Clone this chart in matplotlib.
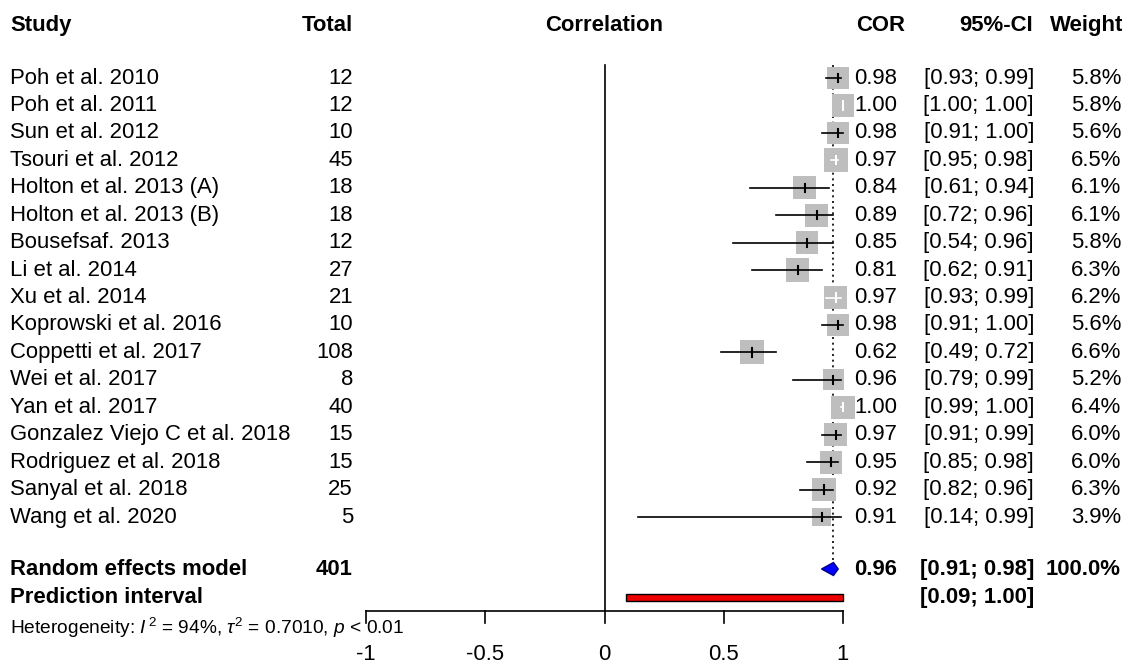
import matplotlib
matplotlib.use("Agg")
import matplotlib.pyplot as plt
from matplotlib.patches import Polygon, Rectangle
import numpy as np

plt.rcParams['font.family'] = ['Liberation Sans', 'DejaVu Sans']
plt.rcParams['mathtext.fontset'] = 'custom'
plt.rcParams['mathtext.rm'] = 'Liberation Sans'
plt.rcParams['mathtext.it'] = 'Liberation Sans:italic'
plt.rcParams['mathtext.bf'] = 'Liberation Sans:bold'

studies = ["Poh et al. 2010", "Poh et al. 2011", "Sun et al. 2012", "Tsouri et al. 2012",
           "Holton et al. 2013 (A)", "Holton et al. 2013 (B)", "Bousefsaf. 2013",
           "Li et al. 2014", "Xu et al. 2014", "Koprowski et al. 2016",
           "Coppetti et al. 2017", "Wei et al. 2017", "Yan et al. 2017",
           "Gonzalez Viejo C et al. 2018", "Rodriguez et al. 2018",
           "Sanyal et al. 2018", "Wang et al. 2020"]
totals = [12, 12, 10, 45, 18, 18, 12, 27, 21, 10, 108, 8, 40, 15, 15, 25, 5]
cor = [0.98, 1.00, 0.98, 0.97, 0.84, 0.89, 0.85, 0.81, 0.97, 0.98, 0.62, 0.96, 1.00, 0.97, 0.95, 0.92, 0.91]
lower = [0.93, 1.00, 0.91, 0.95, 0.61, 0.72, 0.54, 0.62, 0.93, 0.91, 0.49, 0.79, 0.99, 0.91, 0.85, 0.82, 0.14]
upper = [0.99, 1.00, 1.00, 0.98, 0.94, 0.96, 0.96, 0.91, 0.99, 1.00, 0.72, 0.99, 1.00, 0.99, 0.98, 0.96, 0.99]
weights = [5.8, 5.8, 5.6, 6.5, 6.1, 6.1, 5.8, 6.3, 6.2, 5.6, 6.6, 5.2, 6.4, 6.0, 6.0, 6.3, 3.9]

re_total = 401
re_est, re_lo, re_hi = 0.96, 0.91, 0.98
pi_lo, pi_hi = 0.09, 1.00
xticks = [-1, -0.5, 0, 0.5, 1]
xticklabels = ["-1", "-0.5", "0", "0.5", "1"]

W, H, DPI = 1131, 664, 100
fig = plt.figure(figsize=(W / DPI, H / DPI), dpi=DPI)
ax = fig.add_axes([0, 0, 1, 1])
ax.axis('off')

# pixel mapping
X0, XS = 604.5, 238.5          # pixel of x=0, pixels per unit
Y0, YS = 78.0, 27.44           # pixel of row 0, pixels per row
ax.set_xlim((0 - X0) / XS, (W - X0) / XS)
ax.set_ylim((H - Y0) / YS, (0 - Y0) / YS)

def px(p):
    return (p - X0) / XS

def row(p):
    return (p - Y0) / YS

FS = 15.9
n = len(studies)
rows = np.arange(n)
gray = '#BEBEBE'

# header
hy = row(25)
ax.text(px(10), hy, "Study", fontsize=FS, fontweight='bold', ha='left', va='center')
ax.text(px(353), hy, "Total", fontsize=FS, fontweight='bold', ha='right', va='center')
ax.text(px(604), hy, "Correlation", fontsize=FS, fontweight='bold', ha='center', va='center')
ax.text(px(905), hy, "COR", fontsize=FS, fontweight='bold', ha='right', va='center')
ax.text(px(1033), hy, "95%-CI", fontsize=FS, fontweight='bold', ha='right', va='center')
ax.text(px(1123), hy, "Weight", fontsize=FS, fontweight='bold', ha='right', va='center')

# reference lines
re_row = row(569)
pi_row = row(597)
axis_row = row(611)
ax.plot([0, 0], [row(65), axis_row], color='black', lw=1.2)
ax.plot([re_est, re_est], [row(65), re_row - 0.25], color='black', lw=1.2, ls=(0, (1.2, 2.2)))

# squares
K = 9.3  # px side per sqrt(weight)
sides_px = K * np.sqrt(np.array(weights))
ax.scatter(cor, rows, s=(sides_px * 72 / DPI) ** 2, marker='s', color=gray, edgecolors='none', zorder=2)

for i in range(n):
    half = sides_px[i] / 2 / XS
    inside = (cor[i] - lower[i] <= half) and (upper[i] - cor[i] <= half)
    c = 'white' if inside else 'black'
    ax.plot([lower[i], upper[i]], [i, i], color=c, lw=1.2, zorder=3)
    ax.plot([cor[i], cor[i]], [i - 0.15, i + 0.15], color=c, lw=1.5, zorder=3)
    ax.text(px(10), i, studies[i], fontsize=FS, ha='left', va='center')
    ax.text(px(353), i, str(totals[i]), fontsize=FS, ha='right', va='center')
    ax.text(px(897), i, f"{cor[i]:.2f}", fontsize=FS, ha='right', va='center')
    ax.text(px(1034), i, f"[{lower[i]:.2f}; {upper[i]:.2f}]", fontsize=FS, ha='right', va='center')
    ax.text(px(1121), i, f"{weights[i]:.1f}%", fontsize=FS, ha='right', va='center')

# random effects diamond
dh = 6.5 / YS
ax.add_patch(Polygon([[re_lo, re_row], [re_est, re_row - dh], [re_hi, re_row], [re_est, re_row + dh]],
                     closed=True, facecolor='#0000FF', edgecolor='#00008B', lw=1, zorder=3))
ax.text(px(10), re_row, "Random effects model", fontsize=FS, fontweight='bold', ha='left', va='center')
ax.text(px(353), re_row, str(re_total), fontsize=FS, fontweight='bold', ha='right', va='center')
ax.text(px(897), re_row, f"{re_est:.2f}", fontsize=FS, fontweight='bold', ha='right', va='center')
ax.text(px(1034), re_row, f"[{re_lo:.2f}; {re_hi:.2f}]", fontsize=FS, fontweight='bold', ha='right', va='center')
ax.text(px(1121), re_row, "100.0%", fontsize=FS, fontweight='bold', ha='right', va='center')

# prediction interval
ph = 7 / YS
ax.add_patch(Rectangle((pi_lo, pi_row - ph / 2), pi_hi - pi_lo, ph,
                       facecolor='#EE0000', edgecolor='black', lw=1, zorder=3))
ax.text(px(10), pi_row, "Prediction interval", fontsize=FS, fontweight='bold', ha='left', va='center')
ax.text(px(1034), pi_row, f"[{pi_lo:.2f}; {pi_hi:.2f}]", fontsize=FS, fontweight='bold', ha='right', va='center')

# heterogeneity
ax.text(px(10), row(628), r"Heterogeneity: $\mathit{I}^{\,2}$ = 94%, $\tau^{2}$ = 0.7010, $\mathit{p}$ < 0.01",
        fontsize=13.8, ha='left', va='center')

# x axis
ax.plot([xticks[0], xticks[-1]], [axis_row, axis_row], color='black', lw=1.2)
for t, lab in zip(xticks, xticklabels):
    ax.plot([t, t], [axis_row, row(623)], color='black', lw=1.2)
    ax.text(t, row(655), lab, fontsize=FS, ha='center', va='center')

fig.savefig("out.png", dpi=DPI)
